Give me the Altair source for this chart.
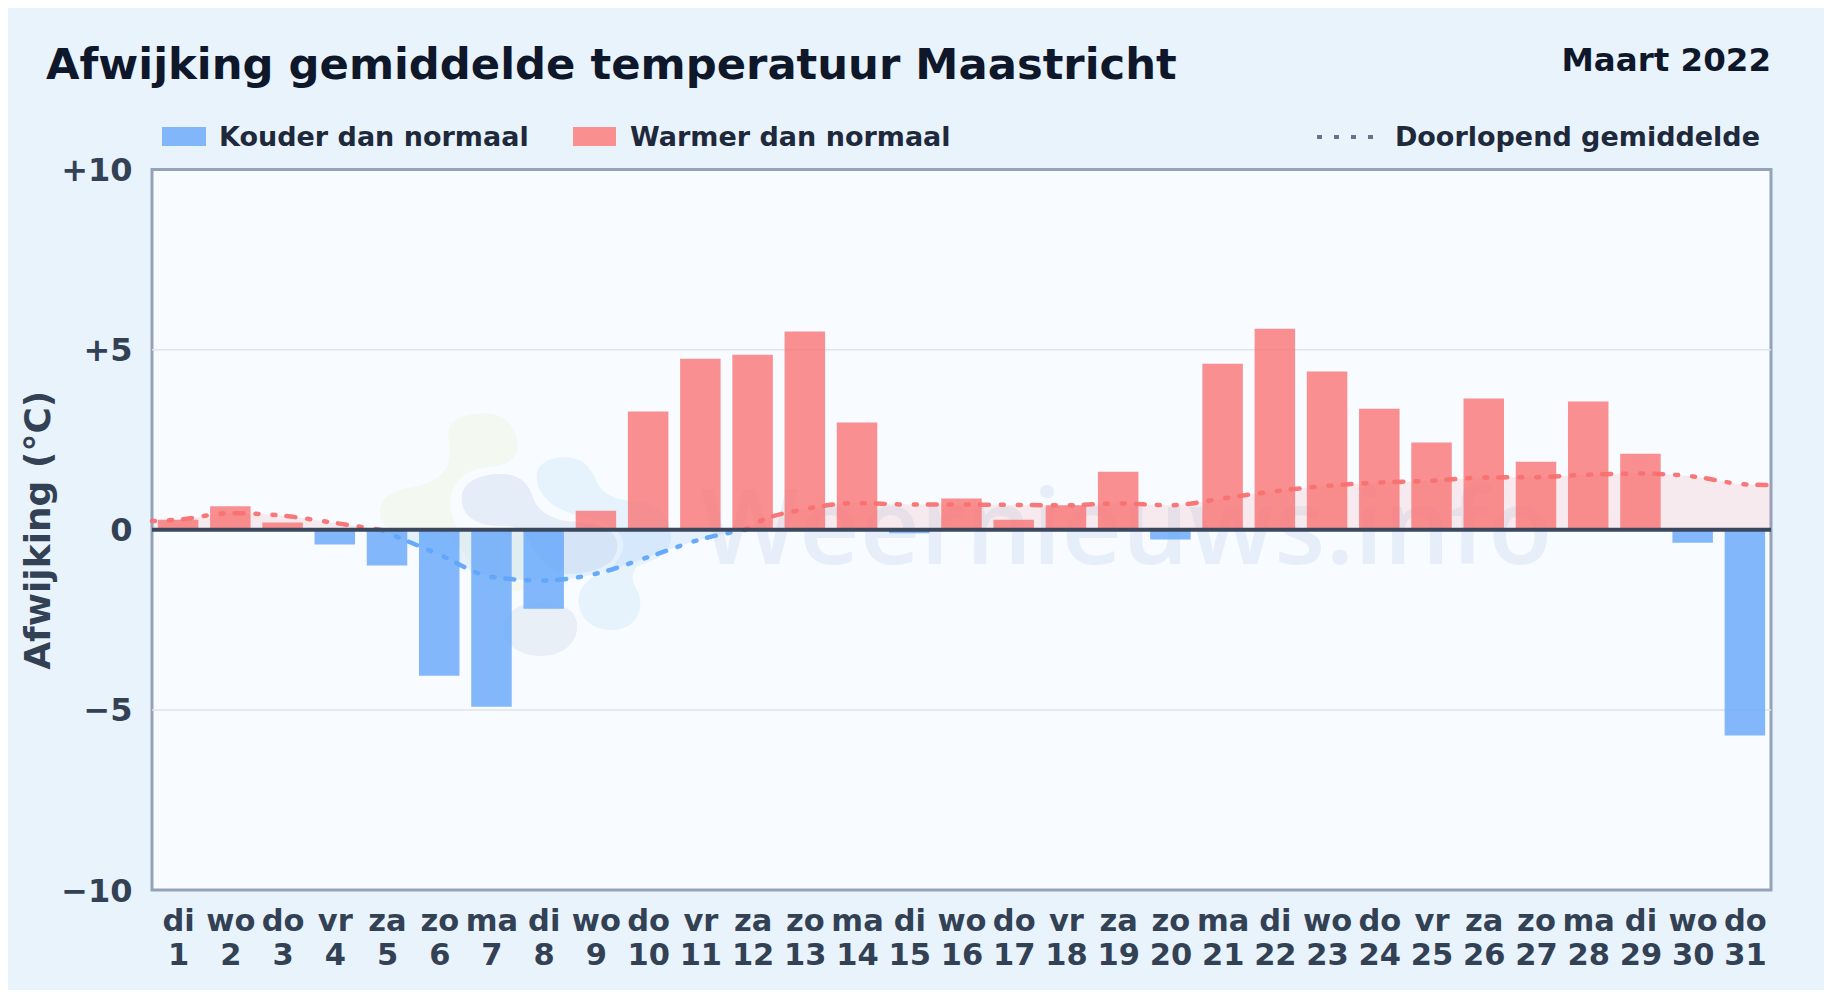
import altair as alt
import pandas as pd

FONT = "DejaVu Sans"
days = list(range(1, 32))
weekdays = ["di","wo","do","vr","za","zo","ma","di","wo","do","vr","za","zo","ma","di","wo","do","vr","za","zo","ma","di","wo","do","vr","za","zo","ma","di","wo","do"]
deviation = [0.28,0.65,0.20,-0.41,-0.99,-4.05,-4.91,-2.19,0.53,3.28,4.75,4.86,5.50,2.98,-0.10,0.87,0.28,0.68,1.61,-0.27,4.61,5.58,4.39,3.36,2.42,3.64,1.89,3.56,2.11,-0.36,-5.71]

warm1_x = [0.5,1,2,3,4,4.87]
warm1_y = [0.24,0.28,0.46,0.39,0.19,0.0]
cold_x = [4.87,6,7,8,9,10,11,11.86]
cold_y = [0.0,-0.69,-1.31,-1.41,-1.22,-0.76,-0.27,0.0]
warm2_x = [11.86,12,13,14,15,16,17,18,19,20,21,22,23,24,25,26,27,28,29,30,31,31.5]
warm2_y = [0.0,0.13,0.57,0.74,0.70,0.70,0.69,0.68,0.73,0.68,0.87,1.07,1.22,1.31,1.36,1.45,1.46,1.53,1.56,1.48,1.26,1.24]

bars = pd.DataFrame({"dag": days, "afw": deviation, "nul": [0]*31,
                     "soort": ["warm" if v >= 0 else "koud" for v in deviation]})
curve = pd.concat([
    pd.DataFrame({"dag": warm1_x, "afw": warm1_y, "deel": "a", "soort": "warm"}),
    pd.DataFrame({"dag": cold_x, "afw": cold_y, "deel": "b", "soort": "koud"}),
    pd.DataFrame({"dag": warm2_x, "afw": warm2_y, "deel": "c", "soort": "warm"}),
])
curve["nul"] = 0
one = pd.DataFrame({"a": [0]})

x_axis = alt.Axis(values=days, labelExpr="[" + str(weekdays) + "[datum.value-1], '' + datum.value]", title=None,
                  labelOverlap=False, labelBound=False, labelFlush=False, domain=False, ticks=False, grid=False,
                  labelFont=FONT, labelFontWeight="bold", labelFontSize=30.5, labelColor="#334155",
                  labelPadding=16, labelLineHeight=34, labelBaseline="top")
y_axis = alt.Axis(values=[-10, -5, 0, 5, 10],
                  labelExpr="datum.value > 0 ? '+' + datum.value : datum.value < 0 ? '\u2212' + abs(datum.value) : '0'",
                  domain=False, ticks=False, grid=False, labelFont=FONT, labelFontWeight="bold", labelFontSize=32,
                  labelColor="#334155", labelPadding=20, labelOffset=1, labelBound=False, labelFlush=False, labelOverlap=False,
                  title="Afwijking (\u00b0C)", titleFont=FONT, titleFontWeight="bold", titleFontSize=36,
                  titleColor="#334155", titlePadding=3)
x_scale = alt.Scale(domain=[0.5, 31.5], nice=False, zero=False, padding=0)
y_scale = alt.Scale(domain=[-10, 10], nice=False, zero=False)
X = alt.X("dag:Q", scale=x_scale, axis=x_axis)
Y = alt.Y("afw:Q", scale=y_scale, axis=y_axis)
COLOR = alt.Color("soort:N", scale=alt.Scale(domain=["koud", "warm"], range=["#60a5fa", "#f87171"]), legend=None)


def at(px, py):
    return {"x": alt.value(px - 152), "y": alt.value(py - 169.5)}


def blob(path, color):
    return alt.Chart(one).mark_point(shape=path, size=4 / 9, filled=True, opacity=1, fill=color, stroke=None).encode(
        x=alt.value(208), y=alt.value(220.5))


green = ("M265 130C265 85 320 70 375 70C440 70 475 120 473 170C470 215 430 228 380 232C320 238 285 270 272 320"
         "C268 350 275 390 300 425L490 425L490 600C450 615 370 590 330 520C310 480 280 440 240 420L100 420"
         "C70 410 60 390 60 370C60 320 100 300 160 290C220 280 265 250 268 200C270 170 265 150 265 130Z")
grey = ("M305 325C305 270 370 250 430 252C490 255 508 290 520 325C535 370 590 395 650 395C720 400 775 420 772 470"
        "C770 520 720 540 660 550C600 560 560 540 520 480C500 430 480 410 440 408C350 412 305 380 305 325Z")
grey2 = ("M460 660C500 630 600 630 640 670C670 720 640 795 545 798C470 798 430 760 430 710C430 690 445 675 460 660Z")
blue = ("M530 260C530 215 580 200 620 202C680 205 700 250 715 285C735 320 780 330 830 335C890 340 935 380 933 440"
        "C930 500 880 510 830 530C815 545 815 570 825 590C845 620 850 660 820 695C780 735 700 725 670 680"
        "C640 630 660 585 700 560C760 540 790 500 790 460C780 400 700 385 650 375C590 360 530 320 530 260Z")


def label(text, px, py, size, color="#1e293b", align="left"):
    return alt.Chart(one).mark_text(text=text, font=FONT, fontWeight="bold", fontSize=size, color=color, align=align,
                                    baseline="alphabetic").encode(**at(px, py))


layers = [
    alt.Chart(pd.DataFrame({"afw": [-5, 5]})).mark_rule(color="#e0e5e9", strokeWidth=1.5).encode(y=Y),
    blob(green, "#f3f9f1"), blob(blue, "#e6f3fd"), blob(grey, "#e5eef8"), blob(grey2, "#e8eff7"),
    alt.Chart(one).mark_text(text="Weernieuws.info", font="Open Sans", fontSize=105, fontWeight=600, color="#e6eff9", align="left", baseline="alphabetic").encode(**at(700, 564)),
    alt.Chart(curve).mark_area(interpolate="monotone", opacity=0.12).encode(x=X, y=Y, y2="nul:Q", color=COLOR, detail="deel:N"),
    alt.Chart(bars).mark_bar(size=40.5, opacity=0.78).encode(x=X, y=Y, y2="nul:Q", color=COLOR),
    alt.Chart(curve).mark_line(interpolate="monotone", strokeWidth=4.5, strokeCap="round", strokeDash=[3, 14, 3, 11, 9, 12], opacity=0.95).encode(x=X, y=Y, color=COLOR, detail="deel:N"),
    alt.Chart(pd.DataFrame({"afw": [0]})).mark_rule(color="#3a475c", strokeWidth=4).encode(y=Y),
    # header and legend
    label("Afwijking gemiddelde temperatuur Maastricht", 46, 79, 43.3, "#0f172a"),
    label("Maart 2022", 1771, 71, 32.5, "#0f172a", "right"),
    alt.Chart(one).mark_rect(color="#82b6fb").encode(x=alt.value(10), x2=alt.value(54), y=alt.value(-42.5), y2=alt.value(-23.5)),
    label("Kouder dan normaal", 219, 146, 27),
    alt.Chart(one).mark_rect(color="#f98f8f").encode(x=alt.value(421), x2=alt.value(464), y=alt.value(-42.5), y2=alt.value(-23.5)),
    label("Warmer dan normaal", 630, 146, 27),
    alt.Chart(one).mark_rule(color="#64748b", strokeWidth=4, strokeDash=[5, 12]).encode(x=alt.value(1165), x2=alt.value(1221), y=alt.value(-32.5)),
    label("Doorlopend gemiddelde", 1760, 146, 27, align="right"),
]

chart = alt.layer(*layers).properties(
    width=1619, height=720.5,
    autosize=alt.AutoSizeParams(type="none"),
    padding={"left": 144, "top": 161.5, "right": 53, "bottom": 100},
    background="#e9f3fc",
).configure_view(fill="#f8fbff", stroke="#94a3b8", strokeWidth=3)

chart.save("out.html", embed_options={"renderer": "svg", "actions": False})
